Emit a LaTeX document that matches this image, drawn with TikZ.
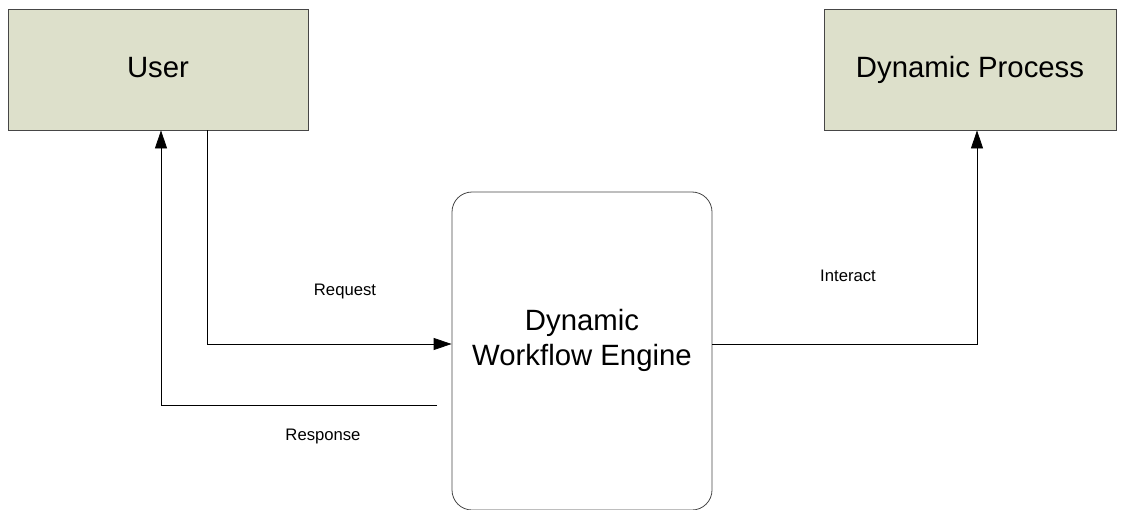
\documentclass[tikz,border=0pt]{standalone}
\usepackage{fontspec}
\setmainfont{Liberation Sans}
\usepackage{tikz}
\usetikzlibrary{arrows.meta,positioning,calc}
\definecolor{boxfill}{RGB}{221,224,203}
\definecolor{boxline}{RGB}{70,70,70}

\begin{document}
\begin{tikzpicture}
[x=0.75pt,y=-0.75pt,
actor/.style={draw=boxline,fill=boxfill,line width=.6pt,minimum height=90.75pt,text height=16pt,text depth=4.5pt,font=\fontsize{22}{26}\selectfont},
engine/.style={draw=boxline,rounded corners=15pt,line width=.6pt,minimum width=195pt,minimum height=238.5pt},
tip/.style={-{Triangle[length=13.5pt,width=9pt]},line width=.6pt},
lbl/.style={font=\fontsize{12.5}{15}\selectfont}]
\useasboundingbox (0,0) rectangle (1124,510);
% boxes
\node[actor,minimum width=225pt] (user) at (158,69.5) {User};
\node[actor,minimum width=219pt] (process) at (970,69.5) {Dynamic Process};
\node[engine,label={[name=enginetext,align=center,font=\fontsize{22}{26}\selectfont,yshift=8pt]center:Dynamic\\Workflow Engine}] (engine) at (582,351) {};
% connectors
\coordinate (respstart) at (437,405);
\draw[tip] (user.south -| 207,0) |- (engine.west |- 0,344);
\draw[tip] (respstart) -| (user.south -| 161,0);
\draw[tip] (engine.east |- 0,344) -| (process.south -| 977,0);
% labels
\node[lbl] (request) at (345,291) {Request};
\node[lbl] (response) at (323,436) {Response};
\node[lbl] (interact) at (848,276) {Interact};
\end{tikzpicture}
\end{document}
